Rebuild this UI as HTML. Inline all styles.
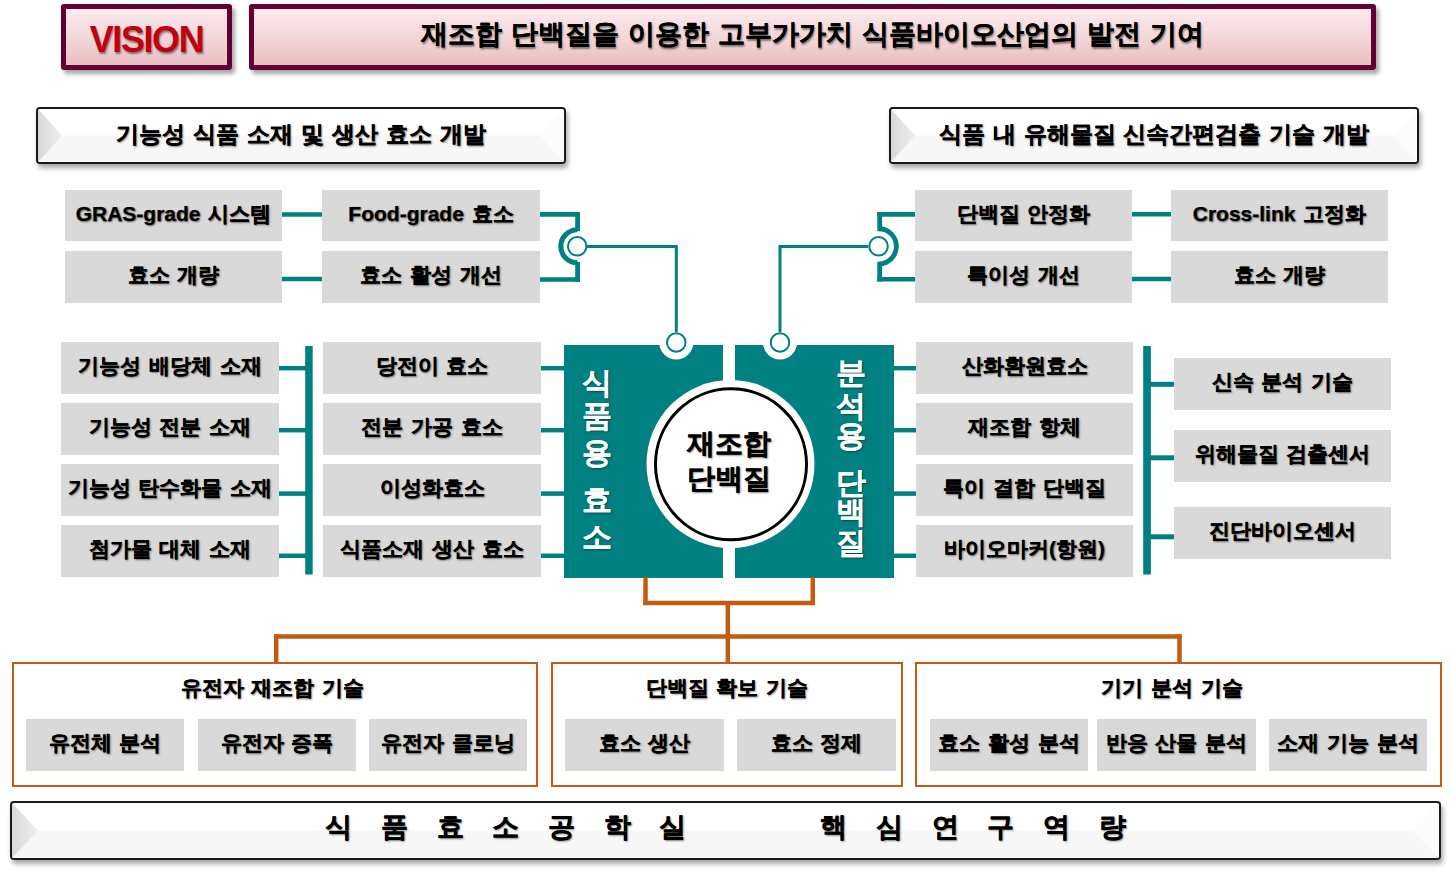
<!DOCTYPE html>
<html lang="ko"><head><meta charset="utf-8"><title>Vision</title>
<style>
html,body{margin:0;padding:0;background:#fff;}
body{width:1451px;height:874px;position:relative;overflow:hidden;font-family:"Liberation Sans",sans-serif;font-weight:bold;color:#000;}
.a{position:absolute;box-sizing:border-box;}
.t{-webkit-text-stroke:0.25px #000;display:flex;align-items:center;justify-content:center;white-space:nowrap;text-shadow:1px 1px 2px rgba(0,0,0,.55);}
.g{-webkit-text-stroke:0.25px #000;position:absolute;box-sizing:border-box;background:#d9d9d9;display:flex;align-items:center;justify-content:center;white-space:nowrap;font-size:21px;word-spacing:2px;padding-bottom:4px;text-shadow:1px 1px 2px rgba(0,0,0,.55);}
.vis{position:absolute;box-sizing:border-box;border:5px solid #620032;border-radius:3px;background:linear-gradient(#fce9ee,#f2d8db 50%,#e9bec0);box-shadow:3px 4px 4px rgba(0,0,0,.35);display:flex;align-items:center;justify-content:center;white-space:nowrap;}
.bev{position:absolute;box-sizing:border-box;border:2px solid #1a1a1a;border-radius:4px;background:#fff;box-shadow:2px 4px 5px rgba(0,0,0,.35);overflow:hidden;}
.bev svg{position:absolute;left:0;top:0;}
.bev .t{position:absolute;left:0;top:0;right:0;bottom:0;}
.ob{position:absolute;box-sizing:border-box;border:2px solid #c55a11;}
.ot{-webkit-text-stroke:0.25px #000;position:absolute;left:0;right:0;text-align:center;font-size:21px;word-spacing:2px;line-height:24px;text-shadow:1px 1px 2px rgba(0,0,0,.55);white-space:nowrap;}
.vc{-webkit-text-stroke:0.25px #fff;position:absolute;width:40px;height:30px;line-height:30px;text-align:center;color:#fff;font-size:30px;text-shadow:1px 1px 2px rgba(0,0,0,.5);}
.bc{-webkit-text-stroke:0.25px #000;position:absolute;width:40px;height:30px;line-height:30px;text-align:center;font-size:27px;text-shadow:1px 1px 2px rgba(0,0,0,.55);}
</style></head>
<body>
<div class="vis" style="left:61px;top:4px;width:171px;height:66px;font-size:36px;letter-spacing:-1.4px;padding-top:5px;color:#c0000e;text-shadow:1px 2px 2px rgba(0,0,0,.45);">VISION</div>
<div class="vis" style="left:249px;top:4px;width:1127px;height:66px;font-size:27px;word-spacing:1.6px;padding-bottom:7px;-webkit-text-stroke:0.25px #000;text-shadow:1px 2px 2px rgba(0,0,0,.5);">재조합 단백질을 이용한 고부가가치 식품바이오산업의 발전 기여</div>
<svg width="0" height="0" style="position:absolute"><defs><linearGradient id="lg1" x1="0" x2="1"><stop offset="0" stop-color="#d8d8d8"/><stop offset="1" stop-color="#efefef"/></linearGradient></defs></svg>
<div class="bev" style="left:36px;top:107px;width:530px;height:57px;"><svg width="526" height="53"><rect x="0" y="26.5" width="526" height="26.5" fill="#f7f7f7"/><polygon points="0,0 24,26.5 0,53" fill="url(#lg1)"/><polygon points="526,0 502,26.5 526,53" fill="#fcfcfc"/></svg><div class="t" style="font-size:23px;word-spacing:1.5px;padding-bottom:3px;">기능성 식품 소재 및 생산 효소 개발</div></div>
<div class="bev" style="left:889px;top:107px;width:530px;height:57px;"><svg width="526" height="53"><rect x="0" y="26.5" width="526" height="26.5" fill="#f7f7f7"/><polygon points="0,0 24,26.5 0,53" fill="url(#lg1)"/><polygon points="526,0 502,26.5 526,53" fill="#fcfcfc"/></svg><div class="t" style="font-size:23px;word-spacing:1.5px;padding-bottom:3px;">식품 내 유해물질 신속간편검출 기술 개발</div></div>
<svg class="a" style="left:0;top:0;" width="1451" height="874">
<rect x="564" y="345" width="159" height="233" fill="#008080"/>
<rect x="735" y="345" width="159" height="233" fill="#008080"/>
<circle cx="676.3" cy="342.5" r="17" fill="#fff"/>
<circle cx="780" cy="342.5" r="17" fill="#fff"/>
<circle cx="730.5" cy="464" r="84" fill="#fff"/>
<line x1="282" y1="214.5" x2="322" y2="214.5" stroke="#008080" stroke-width="4.5"/>
<line x1="282" y1="279" x2="322" y2="279" stroke="#008080" stroke-width="4.5"/>
<line x1="1132" y1="214.3" x2="1171" y2="214.3" stroke="#008080" stroke-width="4.5"/>
<line x1="1132" y1="279" x2="1171" y2="279" stroke="#008080" stroke-width="4.5"/>
<line x1="540" y1="214.4" x2="580" y2="214.4" stroke="#008080" stroke-width="4.6"/>
<line x1="540" y1="279.5" x2="580" y2="279.5" stroke="#008080" stroke-width="4.6"/>
<rect x="575.2" y="212.1" width="4.8" height="19" fill="#008080"/>
<rect x="575.2" y="262" width="4.8" height="20" fill="#008080"/>
<path d="M577.4 229.7 A16.6 16.6 0 0 0 577.4 262.9" fill="none" stroke="#008080" stroke-width="5.15"/>
<line x1="877.3" y1="214.4" x2="915" y2="214.4" stroke="#008080" stroke-width="4.6"/>
<line x1="877.3" y1="279.3" x2="915" y2="279.3" stroke="#008080" stroke-width="4.6"/>
<rect x="877.3" y="212.1" width="4.8" height="19" fill="#008080"/>
<rect x="877.3" y="262" width="4.8" height="19.5" fill="#008080"/>
<path d="M878.8 228.7 A17.6 17.6 0 0 1 878.8 263.9" fill="none" stroke="#008080" stroke-width="4.9"/>
<polyline points="587,246.6 676.3,246.6 676.3,332" fill="none" stroke="#008080" stroke-width="3"/>
<polyline points="868,246.6 780,246.6 780,332" fill="none" stroke="#008080" stroke-width="3"/>
<circle cx="577.2" cy="246.3" r="9.3" fill="#fff" stroke="#008080" stroke-width="2"/>
<circle cx="878.55" cy="246.3" r="9.3" fill="#fff" stroke="#008080" stroke-width="2"/>
<circle cx="676.3" cy="342.5" r="9.3" fill="#fff" stroke="#008080" stroke-width="2"/>
<circle cx="780" cy="342.5" r="9.3" fill="#fff" stroke="#008080" stroke-width="2"/>
<circle cx="731" cy="464.3" r="75.5" fill="#fff" stroke="#000" stroke-width="3"/>
<rect x="305.2" y="346" width="7.5" height="228.5" fill="#008080"/>
<rect x="1143.2" y="346" width="7.7" height="228.5" fill="#008080"/>
<line x1="279" y1="368.2" x2="306" y2="368.2" stroke="#008080" stroke-width="4.5"/>
<line x1="541" y1="368.2" x2="565" y2="368.2" stroke="#008080" stroke-width="4.5"/>
<line x1="893" y1="368.2" x2="916" y2="368.2" stroke="#008080" stroke-width="4.5"/>
<line x1="279" y1="430.2" x2="306" y2="430.2" stroke="#008080" stroke-width="4.5"/>
<line x1="541" y1="430.2" x2="565" y2="430.2" stroke="#008080" stroke-width="4.5"/>
<line x1="893" y1="430.2" x2="916" y2="430.2" stroke="#008080" stroke-width="4.5"/>
<line x1="279" y1="493.6" x2="306" y2="493.6" stroke="#008080" stroke-width="4.5"/>
<line x1="541" y1="493.6" x2="565" y2="493.6" stroke="#008080" stroke-width="4.5"/>
<line x1="893" y1="493.6" x2="916" y2="493.6" stroke="#008080" stroke-width="4.5"/>
<line x1="279" y1="555.8" x2="306" y2="555.8" stroke="#008080" stroke-width="4.5"/>
<line x1="541" y1="555.8" x2="565" y2="555.8" stroke="#008080" stroke-width="4.5"/>
<line x1="893" y1="555.8" x2="916" y2="555.8" stroke="#008080" stroke-width="4.5"/>
<line x1="1150" y1="384.3" x2="1174" y2="384.3" stroke="#008080" stroke-width="5"/>
<line x1="1150" y1="457.8" x2="1174" y2="457.8" stroke="#008080" stroke-width="5"/>
<line x1="1150" y1="536.8" x2="1174" y2="536.8" stroke="#008080" stroke-width="5"/>
<line x1="645.5" y1="577" x2="645.5" y2="605" stroke="#c55a11" stroke-width="4.5"/>
<line x1="812.8" y1="577" x2="812.8" y2="605" stroke="#c55a11" stroke-width="4.5"/>
<line x1="643.3" y1="603" x2="815" y2="603" stroke="#c55a11" stroke-width="4.5"/>
<line x1="727.8" y1="603" x2="727.8" y2="663" stroke="#c55a11" stroke-width="4.5"/>
<line x1="274" y1="636.4" x2="1181.7" y2="636.4" stroke="#c55a11" stroke-width="4.5"/>
<line x1="276.2" y1="634.2" x2="276.2" y2="663" stroke="#c55a11" stroke-width="4.5"/>
<line x1="1179.5" y1="634.2" x2="1179.5" y2="663" stroke="#c55a11" stroke-width="4.5"/>
</svg>
<div class="g" style="left:65px;top:190px;width:217px;height:51px;">GRAS-grade 시스템</div>
<div class="g" style="left:65px;top:251px;width:217px;height:52px;">효소 개량</div>
<div class="g" style="left:322px;top:190px;width:218px;height:51px;">Food-grade 효소</div>
<div class="g" style="left:322px;top:251px;width:218px;height:52px;">효소 활성 개선</div>
<div class="g" style="left:915px;top:190px;width:217px;height:51px;">단백질 안정화</div>
<div class="g" style="left:915px;top:251px;width:217px;height:52px;">특이성 개선</div>
<div class="g" style="left:1171px;top:190px;width:217px;height:51px;">Cross-link 고정화</div>
<div class="g" style="left:1171px;top:251px;width:217px;height:52px;">효소 개량</div>
<div class="g" style="left:61px;top:342px;width:218px;height:52px;">기능성 배당체 소재</div>
<div class="g" style="left:323px;top:342px;width:218px;height:52px;">당전이 효소</div>
<div class="g" style="left:916px;top:342px;width:217px;height:52px;">산화환원효소</div>
<div class="g" style="left:61px;top:403px;width:218px;height:52px;">기능성 전분 소재</div>
<div class="g" style="left:323px;top:403px;width:218px;height:52px;">전분 가공 효소</div>
<div class="g" style="left:916px;top:403px;width:217px;height:52px;">재조합 항체</div>
<div class="g" style="left:61px;top:464px;width:218px;height:52px;">기능성 탄수화물 소재</div>
<div class="g" style="left:323px;top:464px;width:218px;height:52px;">이성화효소</div>
<div class="g" style="left:916px;top:464px;width:217px;height:52px;">특이 결합 단백질</div>
<div class="g" style="left:61px;top:525px;width:218px;height:52px;">첨가물 대체 소재</div>
<div class="g" style="left:323px;top:525px;width:218px;height:52px;">식품소재 생산 효소</div>
<div class="g" style="left:916px;top:525px;width:217px;height:52px;">바이오마커(항원)</div>
<div class="g" style="left:1174px;top:358px;width:217px;height:52px;">신속 분석 기술</div>
<div class="g" style="left:1174px;top:430px;width:217px;height:52px;">위해물질 검출센서</div>
<div class="g" style="left:1174px;top:507px;width:217px;height:52px;">진단바이오센서</div>
<div class="ob" style="left:12px;top:662px;width:526px;height:125px;"><div class="ot" style="top:12px;margin-left:-5px;">유전자 재조합 기술</div></div>
<div class="g" style="left:26px;top:719px;width:158px;height:52px;">유전체 분석</div>
<div class="g" style="left:198px;top:719px;width:158px;height:52px;">유전자 증폭</div>
<div class="g" style="left:369px;top:719px;width:158px;height:52px;">유전자 클로닝</div>
<div class="ob" style="left:551px;top:662px;width:352px;height:125px;"><div class="ot" style="top:12px;margin-left:0px;">단백질 확보 기술</div></div>
<div class="g" style="left:565px;top:719px;width:159px;height:52px;">효소 생산</div>
<div class="g" style="left:737px;top:719px;width:159px;height:52px;">효소 정제</div>
<div class="ob" style="left:915px;top:662px;width:527px;height:125px;"><div class="ot" style="top:12px;margin-left:-13px;">기기 분석 기술</div></div>
<div class="g" style="left:930px;top:719px;width:158px;height:52px;">효소 활성 분석</div>
<div class="g" style="left:1097px;top:719px;width:159px;height:52px;">반응 산물 분석</div>
<div class="g" style="left:1269px;top:719px;width:158px;height:52px;">소재 기능 분석</div>
<div class="a t" style="left:649px;top:426px;width:160px;height:35px;font-size:28px;">재조합</div>
<div class="a t" style="left:649px;top:461px;width:160px;height:35px;font-size:28px;">단백질</div>
<div class="vc" style="left:577px;top:368.3px;">식</div>
<div class="vc" style="left:577px;top:401.2px;">품</div>
<div class="vc" style="left:577px;top:438.0px;">용</div>
<div class="vc" style="left:577px;top:485.4px;">효</div>
<div class="vc" style="left:577px;top:522.3px;">소</div>
<div class="vc" style="left:831px;top:358.3px;">분</div>
<div class="vc" style="left:831px;top:390.7px;">석</div>
<div class="vc" style="left:831px;top:421.0px;">용</div>
<div class="vc" style="left:831px;top:468.3px;">단</div>
<div class="vc" style="left:831px;top:497.3px;">백</div>
<div class="vc" style="left:831px;top:527.5px;">질</div>
<div class="bev" style="left:10px;top:801px;width:1431px;height:59px;"><svg width="1427" height="55"><rect x="0" y="27.5" width="1427" height="27.5" fill="#f7f7f7"/><polygon points="0,0 26,27.5 0,55" fill="url(#lg1)"/><polygon points="1427,0 1401,27.5 1427,55" fill="#fcfcfc"/></svg></div>
<div class="bc" style="left:318.9px;top:811.6px;">식</div>
<div class="bc" style="left:374.5px;top:811.6px;">품</div>
<div class="bc" style="left:430.2px;top:811.6px;">효</div>
<div class="bc" style="left:485.8px;top:811.6px;">소</div>
<div class="bc" style="left:541.5px;top:811.6px;">공</div>
<div class="bc" style="left:597.1px;top:811.6px;">학</div>
<div class="bc" style="left:652.5px;top:811.6px;">실</div>
<div class="bc" style="left:813.9px;top:811.6px;">핵</div>
<div class="bc" style="left:869.5px;top:811.6px;">심</div>
<div class="bc" style="left:925.2px;top:811.6px;">연</div>
<div class="bc" style="left:980.8px;top:811.6px;">구</div>
<div class="bc" style="left:1036.5px;top:811.6px;">역</div>
<div class="bc" style="left:1092.1px;top:811.6px;">량</div>
</body></html>
